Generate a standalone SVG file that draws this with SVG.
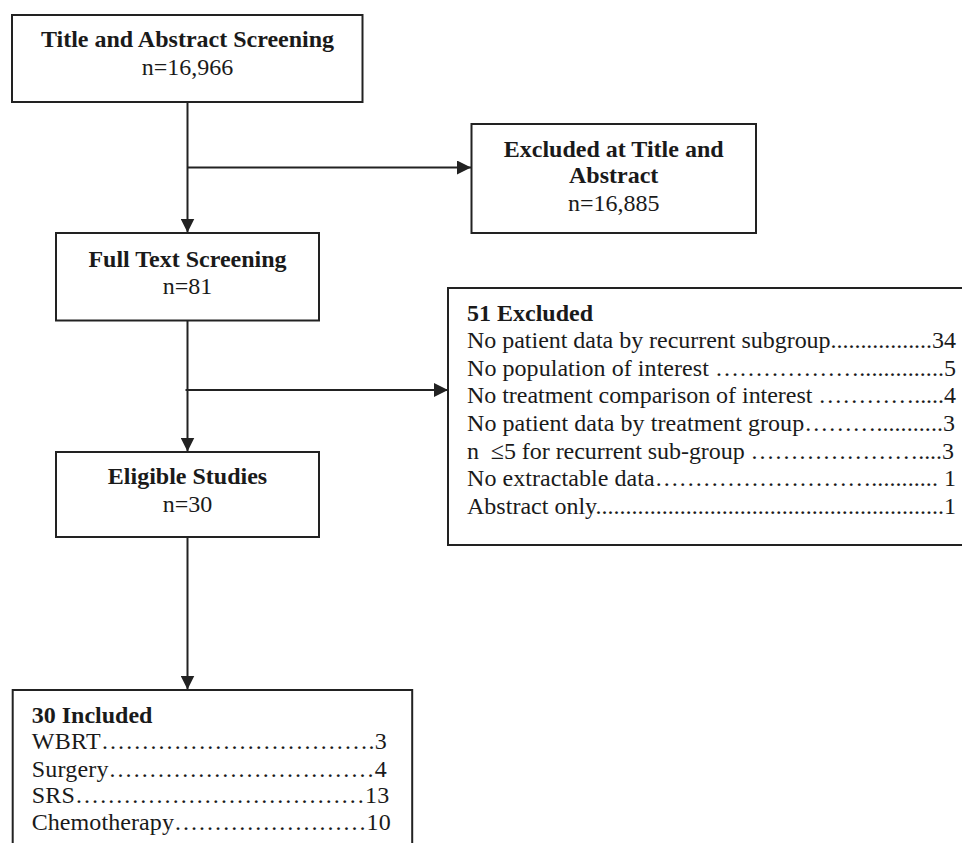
<svg xmlns="http://www.w3.org/2000/svg" width="962" height="843" viewBox="0 0 962 843">
<defs>
<style>
.box{fill:#fff;stroke:#222;stroke-width:2}
.conn{fill:none;stroke:#222;stroke-width:2}
text{font-family:"Liberation Serif","Times New Roman",serif;font-size:24px;fill:#1a1a1a}
.b{font-weight:bold}
.c{text-anchor:middle}
</style>
<marker id="arr" viewBox="0 0 14 14" refX="14" refY="7" markerWidth="14" markerHeight="14" markerUnits="userSpaceOnUse" orient="auto">
<path d="M0,0 L14,7 L0,14 z" fill="#222"/>
</marker>
</defs>
<rect width="962" height="843" fill="#fff"/>

<g id="connectors">
<path class="conn" d="M187.5,102 V232.5" marker-end="url(#arr)"/>
<path class="conn" d="M187.5,167.5 H471" marker-end="url(#arr)"/>
<path class="conn" d="M187.5,320.5 V451.5" marker-end="url(#arr)"/>
<path class="conn" d="M185.5,390 H448" marker-end="url(#arr)"/>
<path class="conn" d="M187.5,537 V689.5" marker-end="url(#arr)"/>
</g>

<g id="node-title">
<rect class="box" x="12" y="15" width="350.5" height="87"/>
<text class="b c" x="187.5" y="46.7">Title and Abstract Screening</text>
<text class="c" x="187.5" y="75">n=16,966</text>
</g>

<g id="node-excluded-title">
<rect class="box" x="471.5" y="124" width="284.5" height="109"/>
<text class="b c" x="613.7" y="156.7">Excluded at Title and</text>
<text class="b c" x="613.7" y="183">Abstract</text>
<text class="c" x="613.7" y="210.7">n=16,885</text>
</g>

<g id="node-fulltext">
<rect class="box" x="56" y="233" width="263" height="87.5"/>
<text class="b c" x="187.5" y="266.7">Full Text Screening</text>
<text class="c" x="187.5" y="294">n=81</text>
</g>

<g id="node-excluded-51">
<rect class="box" x="448" y="288" width="520" height="257"/>
<text class="b" x="467" y="320.7">51 Excluded</text>
<text x="467" y="348" textLength="489" lengthAdjust="spacing">No patient data by recurrent subgroup.................34</text>
<text x="467" y="375.7" textLength="489" lengthAdjust="spacing">No population of interest &#8230;&#8230;&#8230;&#8230;&#8230;&#8230;..............5</text>
<text x="467" y="403.3" textLength="489" lengthAdjust="spacing">No treatment comparison of interest &#8230;&#8230;&#8230;&#8230;.....4</text>
<text x="467" y="431" textLength="488" lengthAdjust="spacing">No patient data by treatment group&#8230;&#8230;&#8230;...........3</text>
<text x="467" y="458.6" textLength="487" lengthAdjust="spacing">n&#160; &#8804;5 for recurrent sub-group &#8230;&#8230;&#8230;&#8230;&#8230;&#8230;&#8230;....3</text>
<text x="467" y="486.3" textLength="489" lengthAdjust="spacing">No extractable data&#8230;&#8230;&#8230;&#8230;&#8230;&#8230;&#8230;&#8230;&#8230;........... 1</text>
<text x="467" y="514" textLength="489" lengthAdjust="spacing">Abstract only..........................................................1</text>
</g>

<g id="node-eligible">
<rect class="box" x="56" y="452" width="263" height="85"/>
<text class="b c" x="187.5" y="484">Eligible Studies</text>
<text class="c" x="187.5" y="511.7">n=30</text>
</g>

<g id="node-included">
<rect class="box" x="12.7" y="690" width="399.5" height="170"/>
<text class="b" x="31.7" y="722.7">30 Included</text>
<text x="31.7" y="749.3" textLength="355" lengthAdjust="spacing">WBRT&#8230;&#8230;&#8230;&#8230;&#8230;&#8230;&#8230;&#8230;&#8230;&#8230;&#8230;.3</text>
<text x="31.7" y="776.5" textLength="355" lengthAdjust="spacing">Surgery&#8230;&#8230;&#8230;&#8230;&#8230;&#8230;&#8230;&#8230;&#8230;&#8230;&#8230;4</text>
<text x="31.7" y="803.3" textLength="357.5" lengthAdjust="spacing">SRS&#8230;&#8230;&#8230;&#8230;&#8230;&#8230;&#8230;&#8230;&#8230;&#8230;&#8230;&#8230;13</text>
<text x="31.7" y="830" textLength="359" lengthAdjust="spacing">Chemotherapy&#8230;&#8230;&#8230;&#8230;&#8230;&#8230;&#8230;&#8230;10</text>
</g>
</svg>
